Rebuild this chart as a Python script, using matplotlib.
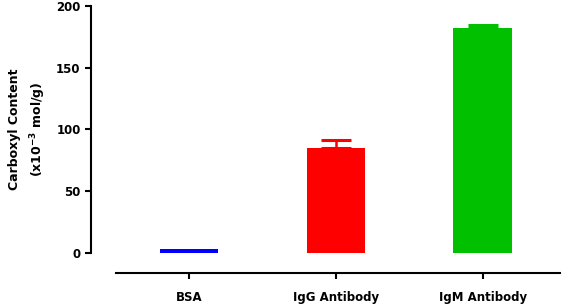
import numpy as np
import matplotlib
matplotlib.use("Agg")
import matplotlib.pyplot as plt

plt.rcParams['font.family'] = ['DejaVu Sans']
plt.rcParams['font.weight'] = 'bold'

# data
groups = ['BSA', 'IgG Antibody', 'IgM Antibody']
values = [3, 85, 182.5]
err_up = [0, 6, 2]
colors = ['#0000FF', '#FF0000', '#00C000']

fig = plt.figure(figsize=(5.61, 3.08), dpi=100)
ax = fig.add_axes([0.1622, 0.1795, 0.8358, 0.801])

x = np.arange(len(groups))
ax.bar(x, values, width=0.4, color=colors, zorder=2)
for xi, v, e, c in zip(x, values, err_up, colors):
    if e > 0:
        ax.errorbar(xi, v, yerr=[[0], [e]], color=c, capsize=11,
                    capthick=2.2, elinewidth=1.8, zorder=1)

ax.set_xlim(-0.667, 2.524)
ax.set_ylim(0, 200)
ax.set_yticks([0, 50, 100, 150, 200])
ax.set_xticks(x)
ax.set_xticklabels(groups)

ax.spines['top'].set_visible(False)
ax.spines['right'].set_visible(False)
ax.spines['bottom'].set_position(('outward', 14.4))
ax.spines['bottom'].set_bounds(-0.5, 2.524)
for s in ['left', 'bottom']:
    ax.spines[s].set_linewidth(1.5)
ax.tick_params(axis='both', width=1.5, length=4, labelsize=8.5)
ax.tick_params(axis='x', pad=9)

ax.set_ylabel('Carboxyl Content\n(x10$^{-3}$ mol/g)', fontsize=9,
              fontweight='bold', linespacing=1.5, labelpad=6)

fig.savefig('out.png', dpi=100)
